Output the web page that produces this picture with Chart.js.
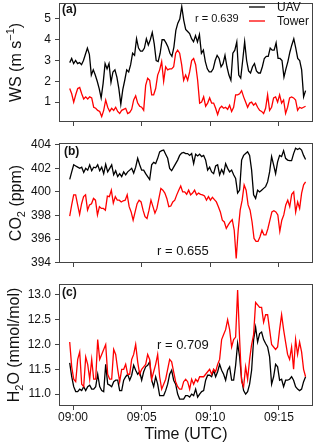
<!DOCTYPE html>
<html>
<head>
<meta charset="utf-8">
<script src="https://cdn.jsdelivr.net/npm/chart.js@4.4.1/dist/chart.umd.min.js"></script>
<style>
  html, body { margin: 0; padding: 0; background: #fff; }
  #wrap { position: relative; width: 320px; height: 446px; overflow: hidden; }
  canvas { position: absolute; left: 0; }
</style>
</head>
<body>
<div id="wrap">
  <canvas id="wsChart" width="320" height="140" style="top:0px"></canvas>
  <canvas id="co2Chart" width="320" height="150" style="top:130px"></canvas>
  <canvas id="h2oChart" width="320" height="176" style="top:270px"></canvas>
</div>
<script>
  // time axis, minutes after 09:00 UTC
  const tStart = -0.24;
  const tEnd = 16.94;
  const xTickVals = [0, 5, 10, 15];
  const xTickLabels = ['09:00', '09:05', '09:10', '09:15'];

  // (a) wind speed, m/s
  const uavWS = [2.9,3.1,2.85,3.0,2.85,2.9,2.8,3.0,3.3,3.6,3.3,2.3,2.55,2.3,2.0,1.65,1.2,1.9,2.85,2.6,
    2.85,1.95,2.45,2.55,2.2,1.65,0.9,1.6,2.05,2.55,2.45,2.8,3.35,3.25,4.05,3.6,3.45,3.45,3.6,4.05,
    3.75,4.0,4.35,3.8,3.0,2.95,3.35,4.0,4.0,3.85,3.65,3.35,3.2,3.65,4.45,4.8,5.0,5.6,4.95,4.5,
    4.4,4.3,4.05,3.9,4.2,3.9,4.25,3.35,3.5,2.95,2.6,2.45,2.45,2.6,3.0,3.25,3.1,2.7,2.85,3.25,
    2.7,2.3,2.05,3.35,3.5,3.9,2.3,2.15,3.0,3.9,3.0,2.5,2.4,2.7,2.85,2.5,2.4,2.4,2.7,3.1,
    3.2,3.2,3.6,3.5,3.5,3.85,3.1,3.1,3.0,2.2,2.6,2.95,3.4,3.75,4.05,3.6,3.1,3.0,2.55,1.25,1.55];
  const towerWS = [1.65,1.4,1.0,1.35,1.65,1.7,1.4,1.15,1.25,1.15,1.25,1.2,0.75,0.7,0.6,0.55,0.3,0.6,1.1,0.75,
    0.55,0.7,0.6,0.75,0.55,0.45,0.6,0.65,0.7,0.45,0.5,0.65,1.1,1.3,0.95,0.8,0.75,0.6,1.8,2.15,
    2.05,1.35,1.35,1.65,2.3,2.55,2.95,2.0,2.7,2.55,2.6,2.6,2.7,3.35,3.5,3.35,2.8,2.05,2.3,2.05,
    2.45,3.0,3.1,2.8,2.05,0.95,1.0,1.25,0.8,0.95,1.2,0.95,0.95,0.7,0.4,0.7,0.8,0.7,0.75,0.65,
    0.85,0.55,0.75,1.35,1.35,1.4,1.55,1.25,1.0,0.75,0.95,1.0,0.85,0.95,0.75,0.6,0.55,0.45,0.7,1.35,
    0.6,0.75,1.2,1.25,1.0,1.35,0.95,1.1,0.45,0.75,1.2,1.25,1.2,1.1,0.6,0.75,0.7,0.75,0.8];
  const wsTicks = [1, 2, 3, 4, 5];

  // (b) CO2, ppm
  const uavCO2 = [401.06,401.7,402.3,402.2,402.1,402.0,402.1,401.65,402.0,401.85,
    402.3,401.8,402.1,402.05,402.3,401.8,402.1,401.55,402.35,401.7,
    402.0,402.3,401.45,401.8,401.3,401.55,401.3,401.7,401.45,401.7,
    401.85,402.0,401.6,402.1,402.85,402.3,401.85,401.85,401.55,401.3,
    401.05,402.3,402.5,402.4,402.85,403.4,403.5,403.55,403.2,402.85,
    402.0,401.8,402.1,402.4,402.7,403.1,403.3,403.35,403.25,403.25,
    403.1,403.25,402.4,403.2,403.05,403.2,403.0,403.1,402.7,401.85,
    402.1,401.7,401.55,402.2,402.3,401.45,401.9,401.55,402.4,402.0,
    401.7,401.85,401.45,401.15,399.9,400.15,402.7,403.1,403.25,403.4,
    403.1,401.85,399.75,399.45,400.15,400.0,400.15,400.3,400.45,400.85,
    401.7,403.0,402.3,401.55,402.55,403.1,403.0,403.5,402.85,402.7,
    402.65,402.65,403.25,403.7,403.6,403.7,403.55,403.1,402.75];
  const towerCO2 = [397.95,398.9,399.75,399.75,398.9,398.1,399.0,399.6,399.75,398.45,
    398.9,399.0,399.45,399.3,398.05,398.75,398.6,398.6,398.45,399.65,
    399.6,400.15,399.05,399.6,399.3,399.3,399.15,399.25,399.3,399.75,
    398.75,398.3,397.6,398.3,399.0,399.3,399.15,398.45,397.9,397.75,
    398.45,399.3,398.75,398.2,398.6,399.45,400.3,400.15,399.9,399.45,
    398.75,398.8,399.15,399.3,399.75,400.15,400.5,400.0,400.0,399.8,
    400.15,399.75,399.9,400.15,399.75,399.9,399.8,399.75,399.65,399.3,
    399.6,399.3,399.55,399.35,399.15,398.75,398.3,397.6,397.45,396.9,
    397.2,397.45,397.65,396.75,394.35,396.75,398.45,399.3,400.6,400.15,
    398.9,398.45,397.45,396.05,395.8,395.8,396.2,396.75,396.35,396.35,
    396.9,397.6,398.3,398.4,398.3,398.05,396.65,397.6,398.05,398.9,
    399.3,398.75,399.8,400.0,398.3,399.15,398.6,399.9,400.6,400.85];
  const co2Ticks = [394, 396, 398, 400, 402, 404];

  // (c) H2O, mmol/mol
  const uavH2O = [11.63,11.35,11.15,11.05,11.05,11.1,11.07,11.15,11.07,11.15,
    11.18,11.1,11.1,11.15,11.4,11.15,11.07,11.05,11.6,11.2,
    11.18,11.15,11.25,11.28,11.28,11.07,11.07,11.28,11.35,11.4,
    11.28,11.38,11.58,11.48,11.4,11.45,11.28,11.45,11.55,11.58,
    11.65,11.28,11.15,11.35,11.2,10.97,10.97,10.97,11.07,11.2,
    11.4,11.48,11.28,11.2,11.0,10.9,10.9,10.9,10.97,10.97,
    10.94,11.0,10.97,11.1,10.94,11.0,11.05,11.07,11.28,11.38,
    11.38,11.35,11.48,11.35,11.45,11.6,11.48,11.4,11.28,11.48,
    11.55,11.28,11.28,11.58,12.02,11.75,11.3,11.07,11.0,11.05,
    11.2,11.48,12.1,12.35,12.05,12.22,12.25,12.1,12.02,11.95,
    11.75,11.2,11.35,11.6,11.55,11.28,11.3,11.15,11.28,11.28,
    11.3,11.35,11.28,11.15,11.1,11.07,11.1,11.25,11.35];
  const towerH2O = [12.05,11.55,11.3,11.25,11.7,11.85,11.2,11.15,11.75,11.6,
    11.3,11.7,11.3,11.3,12.1,11.7,11.8,11.9,12.0,11.4,
    11.3,11.3,11.9,11.8,11.5,11.25,11.5,11.5,11.6,11.4,
    11.4,11.7,11.8,12.0,11.65,11.4,11.5,11.55,11.6,11.8,
    11.7,11.3,11.45,11.6,11.8,11.35,11.1,11.2,11.3,11.5,
    11.7,11.65,11.45,11.25,11.15,11.1,11.1,11.25,11.3,11.25,
    11.1,11.3,11.2,11.3,11.25,11.35,11.35,11.35,11.4,11.45,
    11.5,11.4,11.5,11.45,11.6,11.7,12.1,12.2,12.3,12.5,
    12.3,11.95,12.1,12.15,13.1,12.1,11.25,11.15,11.55,11.3,
    11.7,12.0,12.2,12.85,12.8,12.75,12.75,12.45,12.6,12.6,
    12.3,12.0,11.95,11.9,11.95,12.3,12.6,12.3,12.05,11.8,
    11.7,11.95,11.5,12.1,11.8,12.05,11.85,11.5,11.35];
  const h2oTicks = [11.0, 11.5, 12.0, 12.5, 13.0];

  const seriesNames = ['UAV', 'Tower'];
  const seriesColors = ['#000000', '#ff0000'];

  Chart.defaults.font.family = '"Liberation Sans", Arial, sans-serif';
  Chart.defaults.color = '#111';

  // spread the samples evenly over the flight time
  function toPoints(values) {
    const step = (tEnd - tStart) / (values.length - 1);
    return values.map((v, i) => ({ x: tStart + i * step, y: v }));
  }

  // box, panel letter, r value, axis titles, legend
  const panelDecor = {
    id: 'panelDecor',
    afterDraw(chart, args, opts) {
      const ctx = chart.ctx;
      const a = chart.chartArea;
      const off = opts.top;
      ctx.save();
      ctx.strokeStyle = '#444';
      ctx.lineWidth = 1;
      ctx.strokeRect(Math.round(a.left) + 0.5, Math.round(a.top) + 0.5,
        Math.round(a.right - a.left) - 1, Math.round(a.bottom - a.top) - 1);

      ctx.fillStyle = '#111';
      ctx.textBaseline = 'middle';
      ctx.textAlign = 'left';
      ctx.font = 'bold 12px "Liberation Sans", Arial, sans-serif';
      ctx.fillText(opts.letter[0], opts.letter[1], opts.letter[2] - off);

      ctx.font = opts.r[3] + 'px "Liberation Sans", Arial, sans-serif';
      ctx.fillText(opts.r[0], opts.r[1], opts.r[2] - off);

      // rotated y title with sub/superscripts
      const big = '16px "Liberation Sans", Arial, sans-serif';
      const small = '11px "Liberation Sans", Arial, sans-serif';
      ctx.save();
      ctx.translate(opts.yTitleX, (a.top + a.bottom) / 2);
      ctx.rotate(-Math.PI / 2);
      ctx.textBaseline = 'alphabetic';
      let total = 0;
      opts.yTitle.forEach(p => { ctx.font = p[1] ? small : big; total += ctx.measureText(p[0]).width; });
      let x = -total / 2;
      opts.yTitle.forEach(p => {
        ctx.font = p[1] ? small : big;
        const dy = p[1] === 1 ? -1 : (p[1] === -1 ? 10 : 6);
        ctx.fillText(p[0], x, dy);
        x += ctx.measureText(p[0]).width;
      });
      ctx.restore();

      if (opts.xTitle) {
        ctx.font = big;
        ctx.textAlign = 'center';
        ctx.fillText(opts.xTitle[0], (a.left + a.right) / 2, opts.xTitle[1] - off);
      }

      if (opts.legend) {
        ctx.font = '12px "Liberation Sans", Arial, sans-serif';
        ctx.textAlign = 'left';
        seriesNames.forEach((name, i) => {
          const y = opts.legend[1] + i * 14 - off;
          ctx.strokeStyle = seriesColors[i];
          ctx.lineWidth = 1.3;
          ctx.beginPath();
          ctx.moveTo(opts.legend[0], y);
          ctx.lineTo(opts.legend[0] + 16, y);
          ctx.stroke();
          ctx.fillText(name, opts.legend[0] + 28, y + 0.5);
        });
      }
      ctx.restore();
    }
  };

  function makePanel(canvasId, uav, tower, yMin, yMax, yTicks, yLabel, xAxisHeight, showXLabels, decor) {
    const ctx = document.getElementById(canvasId).getContext('2d');
    return new Chart(ctx, {
      type: 'line',
      data: {
        datasets: [
          { label: seriesNames[1], data: toPoints(tower), borderColor: seriesColors[1], borderWidth: 1.3, pointRadius: 0, tension: 0 },
          { label: seriesNames[0], data: toPoints(uav), borderColor: seriesColors[0], borderWidth: 1.3, pointRadius: 0, tension: 0 },
        ],
      },
      options: {
        responsive: false,
        animation: false,
        devicePixelRatio: 1,
        layout: { padding: { top: decor.padTop, right: 7, left: 0, bottom: 0 } },
        plugins: { legend: { display: false }, tooltip: { enabled: false }, panelDecor: decor },
        scales: {
          x: {
            type: 'linear',
            min: -1.02,
            max: 17.48,
            afterBuildTicks: s => { s.ticks = xTickVals.map(v => ({ value: v })); },
            afterFit: s => { s.height = xAxisHeight; s.paddingLeft = 0; s.paddingRight = 0; },
            grid: { drawOnChartArea: false, tickLength: 4, color: '#444' },
            border: { display: false },
            ticks: {
              display: showXLabels,
              autoSkip: false,
              maxRotation: 0,
              padding: 0,
              font: { size: 12 },
              callback: (v, i) => xTickLabels[i],
            },
          },
          y: {
            min: yMin,
            max: yMax,
            afterBuildTicks: s => { s.ticks = yTicks.map(v => ({ value: v })); },
            afterFit: s => { s.width = 59; s.paddingTop = 0; s.paddingBottom = 0; },
            grid: { drawOnChartArea: false, tickLength: 4, color: '#444' },
            border: { display: false },
            ticks: { padding: 4, font: { size: 12 }, callback: yLabel },
          },
        },
      },
      plugins: [panelDecor],
    });
  }

  document.addEventListener('DOMContentLoaded', () => {
    makePanel('wsChart', uavWS, towerWS, 0.04, 5.77, wsTicks, v => String(v), 18, false, {
      top: 0, padTop: 3, letter: ['(a)', 62, 10], r: ['r = 0.639', 195, 19, 11],
      yTitleX: 15, yTitle: [['WS (m s', 0], ['\u22121', 1], [')', 0]], legend: [249, 7],
    });
    makePanel('co2Chart', uavCO2, towerCO2, 393.97, 404.15, co2Ticks, v => String(v), 17, false, {
      top: 130, padTop: 13, letter: ['(b)', 64, 151.5], r: ['r = 0.655', 157, 251.5, 13],
      yTitleX: 15, yTitle: [['CO', 0], ['2', -1], [' (ppm)', 0]],
    });
    makePanel('h2oChart', uavH2O, towerH2O, 10.76, 13.22, h2oTicks, v => v.toFixed(1), 40, true, {
      top: 270, padTop: 14, letter: ['(c)', 62, 293], r: ['r = 0.709', 157, 345, 13],
      yTitleX: 13, yTitle: [['H', 0], ['2', -1], ['O (mmol/mol)', 0]], xTitle: ['Time (UTC)', 435],
    });
  });
</script>
</body>
</html>
